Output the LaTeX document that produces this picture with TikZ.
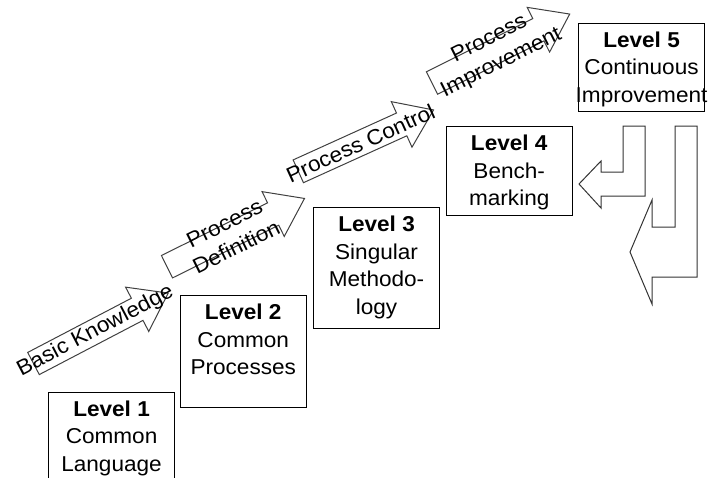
\documentclass[tikz,border=0pt]{standalone}
\usepackage{fontspec}
\setmainfont{Liberation Sans}[FakeStretch=1.05]
\usepackage{tikz}

\tikzset{
	level/.style={draw, line width=1pt, inner sep=0pt, anchor=north west, font=\fontsize{21.5}{27.5}\selectfont},
	stair/.style={draw=black!75, line width=1pt},
	stairtext/.style={inner sep=0pt, align=center, font=\fontsize{21.5}{26.5}\selectfont},
	back/.style={draw=black!80, line width=1pt}
}
\newcommand{\levelbody}[2]{\parbox[c][#1][t]{125.5pt}{\centering\rule{0pt}{24pt}#2}}

\begin{document}
\begin{tikzpicture}[x=1pt, y=-1pt]
	\clip (0,0) rectangle (711,477);

	\node[level] (lvl1) at (48.3,391.7) {\levelbody{112pt}{\textbf{Level 1}\\Common\\Language}};
	\node[level] (lvl2) at (180,295) {\levelbody{111.7pt}{\textbf{Level 2}\\Common\\Processes}};
	\node[level] (lvl3) at (313.3,207.3) {\levelbody{121pt}{\textbf{Level 3}\\Singular\\Methodo-\\logy}};
	\node[level] (lvl4) at (446,126) {\levelbody{89pt}{\textbf{Level 4}\\Bench-\\marking}};
	\node[level] (lvl5) at (578.3,22.7) {\levelbody{88.3pt}{\textbf{Level 5}\\Continuous\\\makebox[\linewidth]{Improvement}}};

	\foreach \tx/\ty/\ang/\len/\nm/\txt in {33.5/363.5/27.6/152/basic/{Basic Knowledge},
		167/266.7/26.4/153.5/definition/{Process\\Definition},
		298.3/171.3/24.4/148.5/control/{Process Control},
		432/83/26.6/154/improvement/{Process\\Improvement}}{
		\begin{scope}[shift={(\tx,\ty)}, rotate=\ang]
			\draw[stair] (0,-12.5) -- (\len-35,-12.5) -- (\len-35,-25) -- (\len,0) -- (\len-35,25) -- (\len-35,12.5) -- (0,12.5) -- cycle;
			\node[stairtext, rotate=\ang] (\nm) at (\len/2-6,0) {\txt};
		\end{scope}
	}

	\draw[back] (623,126) -- (645,126) -- (645,196) -- (601,196) -- (601,208) -- (579,184) -- (601,161) -- (601,172) -- (623,172) -- cycle;
	\draw[back] (675,126) -- (697,126) -- (697,277) -- (652,277) -- (652,304) -- (630,252) -- (652,200) -- (652,227) -- (675,227) -- cycle;

\end{tikzpicture}
\end{document}
